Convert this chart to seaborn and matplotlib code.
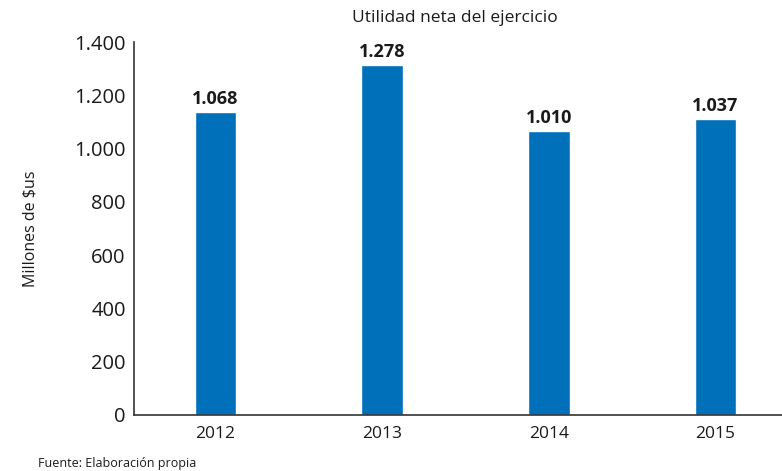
import pandas as pd
import numpy as np
import matplotlib
matplotlib.use("Agg")
import matplotlib.pyplot as plt
import seaborn as sns
from matplotlib.ticker import FuncFormatter

# data (bar heights as drawn, labels as printed)
years = ["2012", "2013", "2014", "2015"]
heights = [1137, 1314, 1066, 1111]
labels = ["1.068", "1.278", "1.010", "1.037"]
yticks = [0, 200, 400, 600, 800, 1000, 1200, 1400]

df = pd.DataFrame({"year": years, "value": heights})

sns.set_style("white")
plt.rcParams["font.family"] = ["Open Sans", "DejaVu Sans"]

fig = plt.figure(figsize=(7.82, 4.71), dpi=100)
ax = fig.add_axes([134 / 782, 1 - 415 / 471, 1 - 134 / 782, (415 - 42) / 471])

sns.barplot(data=df, x="year", y="value", color="#0070BA", width=0.25,
            saturation=1, ax=ax)

ax.bar_label(ax.containers[0], labels=labels, padding=3, fontsize=13,
             fontweight="bold", color="#1a1a1a")

ax.set_ylim(0, 1400)
ax.set_xlim(-0.49, 3.40)
ax.set_yticks(yticks)
ax.yaxis.set_major_formatter(FuncFormatter(lambda v, p: f"{int(v):,}".replace(",", ".")))

sns.despine(ax=ax, top=True, right=True)
for s in ["left", "bottom"]:
    ax.spines[s].set_color("#333333")
    ax.spines[s].set_linewidth(1.2)

ax.tick_params(axis="y", direction="in", length=12, width=1.2, color="#333333",
               labelsize=14.5, labelcolor="#1a1a1a", pad=6)
ax.tick_params(axis="x", length=0, labelsize=12.5, labelcolor="#1a1a1a", pad=8)

ax.set_xlabel("")
ax.set_ylabel("Millones de $us", fontsize=11.5, color="#1a1a1a", labelpad=26)

fig.text(455 / 782, 1 - 18 / 471, "Utilidad neta del ejercicio", ha="center",
         va="center", fontsize=12.5, color="#1a1a1a")
fig.text(38 / 782, 1 - 463 / 471, "Fuente: Elaboración propia", ha="left",
         va="center", fontsize=9, color="#1a1a1a")

fig.savefig("out.png", dpi=100)
